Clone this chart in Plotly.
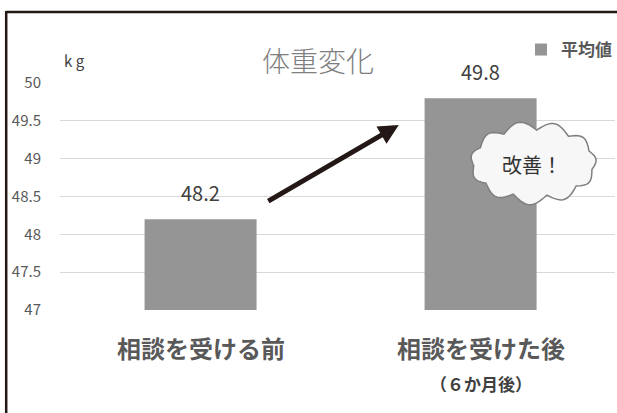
import numpy as np
import plotly.graph_objects as go

categories = ["相談を受ける前", "相談を受けた後"]
sub_labels = ["", "（６か月後）"]
values = [48.2, 49.8]
series_name = "平均値"
title_text = "体重変化"
unit_text = "k g"
callout_text = "改善！"
y_ticks = [47, 47.5, 48, 48.5, 49, 49.5, 50]

W, H = 617, 413
L, R, T, B = 60, 0, 83, 103
PW, PH = W - L - R, H - T - B

def px(x):
    return (x - L) / PW

def py(y):
    return (H - B - y) / PH

FONT = "Noto Sans CJK JP"
GREY = "#595959"

fig = go.Figure()
fig.add_trace(go.Bar(
    x=categories, y=values, name="<b>" + series_name + "</b>",
    marker=dict(color="#959595", line=dict(width=0)),
    width=0.4, showlegend=True,
))

annotations = []
# value labels
for c, v in zip(categories, values):
    annotations.append(dict(x=c, y=v, xref="x", yref="y", text=f"{v}",
                            showarrow=False, xanchor="center", yanchor="bottom", yshift=10,
                            font=dict(family=FONT, size=20, color="#404040")))
# category labels
for c, s in zip(categories, sub_labels):
    annotations.append(dict(x=c, y=py(347), xref="x", yref="paper", text="<b>" + c + "</b>",
                            showarrow=False, xanchor="center", yanchor="middle",
                            font=dict(family=FONT, size=24, color=GREY)))
    if s:
        annotations.append(dict(x=c, y=py(383), xref="x", yref="paper", text="<b>" + s + "</b>",
                                showarrow=False, xanchor="center", yanchor="middle",
                                font=dict(family=FONT, size=17, color="#404040")))
# unit
annotations.append(dict(x=px(75), y=py(61), xref="paper", yref="paper", text=unit_text,
                        showarrow=False, xanchor="center", yanchor="middle",
                        font=dict(family=FONT, size=15, color="#404040")))
# arrow
annotations.append(dict(x=px(400), y=py(125), ax=268 - 400, ay=202 - 125, xref="paper", yref="paper",
                        axref="pixel", ayref="pixel", text="", showarrow=True,
                        arrowhead=2, arrowsize=0.8, arrowwidth=5, arrowcolor="#231815"))
# callout text
annotations.append(dict(x=px(534), y=py(164), xref="paper", yref="paper", text=callout_text,
                        showarrow=False, xanchor="center", yanchor="middle",
                        font=dict(family=FONT, size=20, color="#333333")))

# cloud path
cx, cy, a, b, n, hb = 535, 163, 60, 33, 11, 9
ang = np.linspace(0, 2 * np.pi, n + 1) + 0.2
pts = []
for k in range(n):
    p0 = np.array([cx + a * np.cos(ang[k]), cy + b * np.sin(ang[k])])
    p1 = np.array([cx + a * np.cos(ang[k + 1]), cy + b * np.sin(ang[k + 1])])
    d = p1 - p0
    nrm = np.array([d[1], -d[0]]) / np.hypot(*d)
    mid = (p0 + p1) / 2
    if np.dot(nrm, mid - np.array([cx, cy])) < 0:
        nrm = -nrm
    for t in np.linspace(0, 1, 14)[:-1]:
        p = p0 + d * t + nrm * hb * np.sin(np.pi * t) * (np.hypot(*d) / 30)
        pts.append(p)
path = "M " + " L ".join(f"{px(p[0]):.4f},{py(p[1]):.4f}" for p in pts) + " Z"

shapes = [
    dict(type="rect", xref="paper", yref="paper", x0=px(265), x1=px(405), y0=py(206), y1=py(126),
         fillcolor="white", line=dict(width=0), layer="between"),
    dict(type="rect", xref="paper", yref="paper", x0=px(55), x1=px(117), y0=py(88), y1=py(76),
         fillcolor="white", line=dict(width=0), layer="between"),
    dict(type="path", xref="paper", yref="paper", path=path, fillcolor="#f7f7f7",
         line=dict(color="#7f7f7f", width=1.5), layer="above"),
    dict(type="line", xref="paper", yref="paper", x0=px(6), x1=px(640), y0=py(12), y1=py(12),
         line=dict(color="#231815", width=2.5)),
    dict(type="line", xref="paper", yref="paper", x0=px(6), x1=px(6), y0=py(11), y1=py(440),
         line=dict(color="#231815", width=2.5)),
]

fig.update_layout(
    width=W, height=H,
    margin=dict(l=L, r=R, t=T, b=B, pad=0),
    paper_bgcolor="white", plot_bgcolor="white",
    title=dict(text=title_text, x=318 / W, y=1 - 62 / H, xref="container", yref="container",
               xanchor="center", yanchor="middle",
               font=dict(family=FONT, size=28, color="#7f7f7f", weight=300)),
    font=dict(family=FONT),
    xaxis=dict(range=[-0.502, 1.48], showticklabels=False, showgrid=False, zeroline=False,
               showline=False, ticks=""),
    yaxis=dict(range=[47, 50], tickvals=y_ticks, ticktext=[f"{t:g}" for t in y_ticks],
               showgrid=True, gridcolor="#d9d9d9", gridwidth=1, zeroline=False,
               showline=False, ticks="", ticklabelstandoff=18,
               tickfont=dict(family=FONT, size=15, color=GREY)),
    legend=dict(x=px(619), xanchor="right", y=py(50), yanchor="middle", xref="paper", yref="paper",
                bgcolor="rgba(0,0,0,0)", font=dict(family=FONT, size=17, color=GREY),
                itemwidth=30, tracegroupgap=0),
    bargap=0.6,
    annotations=annotations,
    shapes=shapes,
)

fig.write_html("out.html", config={"displayModeBar": False})
with open("out.html", encoding="utf-8") as f:
    html = f.read()
html = html.replace("<head>", "<head><style>html,body{margin:0;padding:0;overflow:hidden;}</style>", 1)
with open("out.html", "w", encoding="utf-8") as f:
    f.write(html)
